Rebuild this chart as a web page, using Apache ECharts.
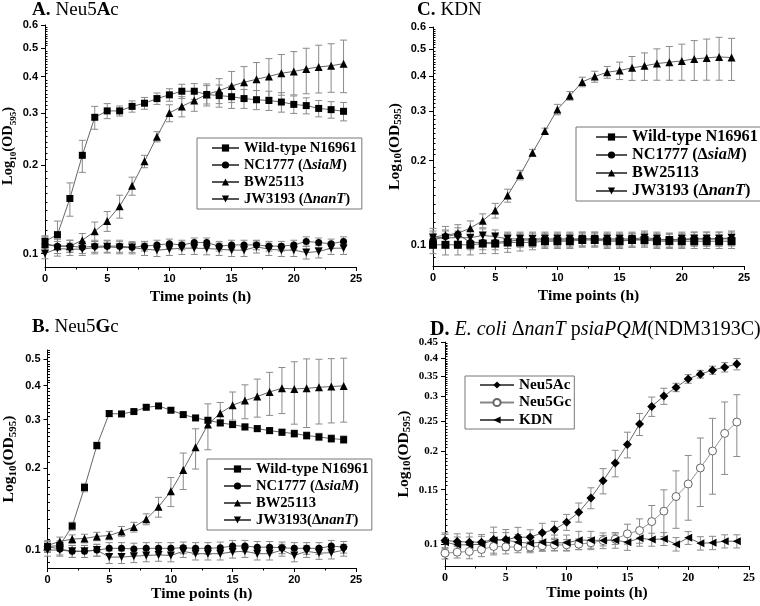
<!DOCTYPE html>
<html><head><meta charset="utf-8">
<script src="https://cdn.jsdelivr.net/npm/echarts@6/dist/echarts.min.js"></script>
<style>html,body{margin:0;padding:0;background:#fff}#c{width:760px;height:606px}</style>
</head><body><div id="c"></div>
<script>
const SERIF = '"Liberation Serif","Times New Roman",serif';
const SANS = '"Liberation Sans",Arial,sans-serif';

// ---------- data ----------
const hours = [0,1,2,3,4,5,6,7,8,9,10,11,12,13,14,15,16,17,18,19,20,21,22,23,24];

const ticksA = ['0.1','0.2','0.3','0.4','0.5','0.6'];
const ticksB = ['0.1','0.2','0.3','0.4','0.5'];
const ticksC = ['0.1','0.2','0.3','0.4','0.5','0.6'];
const ticksD = ['0.1','0.15','0.2','0.25','0.3','0.35','0.4','0.45'];

// Panel A: Neu5Ac
const aWild    = [0.110,0.116,0.154,0.216,0.291,0.306,0.306,0.317,0.325,0.337,0.347,0.357,0.357,0.348,0.345,0.342,0.337,0.334,0.332,0.328,0.322,0.319,0.312,0.309,0.305];
const aWildErr = [0.005,0.013,0.020,0.027,0.026,0.018,0.012,0.014,0.015,0.015,0.017,0.020,0.022,0.025,0.030,0.030,0.025,0.025,0.025,0.025,0.022,0.020,0.020,0.020,0.022];
const aSiaM    = [0.107,0.106,0.106,0.105,0.106,0.106,0.106,0.105,0.106,0.107,0.108,0.107,0.109,0.109,0.106,0.107,0.107,0.107,0.106,0.106,0.107,0.110,0.109,0.108,0.110];
const aSiaMErr = [0.006,0.006,0.005,0.005,0.005,0.005,0.005,0.004,0.004,0.004,0.004,0.004,0.004,0.004,0.004,0.004,0.004,0.004,0.004,0.004,0.004,0.004,0.004,0.004,0.004];
const aBW      = [0.108,0.106,0.106,0.111,0.119,0.129,0.145,0.170,0.206,0.250,0.301,0.317,0.332,0.348,0.359,0.372,0.383,0.392,0.401,0.411,0.417,0.425,0.432,0.436,0.443];
const aBWErr   = [0.006,0.006,0.005,0.006,0.009,0.010,0.013,0.012,0.010,0.010,0.020,0.025,0.027,0.030,0.035,0.045,0.050,0.055,0.060,0.065,0.070,0.075,0.080,0.082,0.090];
const aNanT    = [0.100,0.104,0.1035,0.1035,0.1048,0.1054,0.1048,0.1048,0.1035,0.1027,0.1035,0.1043,0.1043,0.104,0.1035,0.1027,0.1027,0.1054,0.1035,0.1027,0.1027,0.1008,0.1016,0.1043,0.1043];
const aNanTErr = [0.004,0.006,0.005,0.005,0.005,0.005,0.005,0.005,0.005,0.005,0.005,0.005,0.005,0.005,0.005,0.005,0.005,0.005,0.005,0.005,0.005,0.005,0.005,0.005,0.005];

// Panel C: KDN
const cWild    = [0.100,0.100,0.100,0.100,0.101,0.101,0.102,0.102,0.102,0.103,0.103,0.103,0.104,0.104,0.103,0.103,0.104,0.104,0.103,0.103,0.103,0.103,0.103,0.103,0.103];
const cWildErr = [0.007,0.008,0.008,0.008,0.008,0.008,0.008,0.007,0.006,0.006,0.006,0.006,0.006,0.006,0.006,0.006,0.006,0.006,0.006,0.006,0.006,0.006,0.006,0.006,0.006];
const cSiaM    = [0.104,0.107,0.109,0.102,0.102,0.102,0.103,0.104,0.104,0.104,0.104,0.104,0.105,0.105,0.104,0.104,0.104,0.105,0.104,0.104,0.104,0.105,0.105,0.105,0.105];
const cSiaMErr = [0.006,0.006,0.006,0.006,0.006,0.006,0.006,0.006,0.006,0.006,0.006,0.006,0.006,0.006,0.006,0.006,0.006,0.006,0.006,0.006,0.006,0.006,0.006,0.006,0.006];
const cBW      = [0.1065,0.1083,0.110,0.1147,0.122,0.1326,0.150,0.1776,0.2134,0.255,0.3045,0.3406,0.382,0.399,0.4136,0.4194,0.4287,0.4358,0.4442,0.4491,0.454,0.4615,0.4653,0.4692,0.4665];
const cBWErr   = [0.008,0.008,0.008,0.007,0.007,0.008,0.008,0.007,0.006,0.006,0.013,0.012,0.015,0.018,0.020,0.030,0.042,0.049,0.057,0.062,0.067,0.075,0.078,0.082,0.080];
const cNanT    = [0.106,0.106,0.106,0.106,0.108,0.107,0.105,0.105,0.105,0.105,0.105,0.105,0.105,0.105,0.105,0.105,0.105,0.106,0.105,0.104,0.105,0.105,0.105,0.105,0.106];
const cNanTErr = [0.006,0.006,0.006,0.006,0.006,0.006,0.006,0.006,0.006,0.006,0.006,0.006,0.006,0.006,0.006,0.006,0.006,0.006,0.006,0.006,0.006,0.006,0.006,0.006,0.006];

// Panel B: Neu5Gc
const bWild    = [0.103,0.104,0.1224,0.1695,0.2414,0.316,0.315,0.3214,0.3332,0.337,0.325,0.3133,0.3046,0.2987,0.2921,0.288,0.2824,0.2784,0.2738,0.270,0.267,0.2626,0.2596,0.256,0.2538];
const bWildErr = [0.004,0.004,0.004,0.006,0.007,0.008,0.007,0.006,0.006,0.006,0.006,0.006,0.006,0.006,0.007,0.007,0.007,0.007,0.007,0.007,0.008,0.008,0.008,0.008,0.008];
const bSiaM    = [0.103,0.101,0.099,0.099,0.100,0.1015,0.1015,0.101,0.1015,0.1015,0.1015,0.102,0.1015,0.1015,0.102,0.1035,0.1035,0.1025,0.1025,0.102,0.1015,0.1015,0.1015,0.1035,0.1025];
const bSiaMErr = [0.005,0.005,0.005,0.005,0.005,0.005,0.005,0.005,0.005,0.005,0.005,0.005,0.005,0.005,0.005,0.005,0.005,0.005,0.005,0.005,0.005,0.005,0.005,0.005,0.005];
const bBW      = [0.104,0.1076,0.1097,0.1103,0.1122,0.1131,0.117,0.1214,0.1298,0.144,0.1643,0.1966,0.238,0.288,0.317,0.339,0.3526,0.3646,0.3792,0.391,0.389,0.391,0.3944,0.397,0.399];
const bBWErr   = [0.004,0.004,0.004,0.004,0.004,0.004,0.005,0.005,0.006,0.012,0.020,0.030,0.040,0.055,0.030,0.040,0.050,0.058,0.068,0.075,0.100,0.110,0.105,0.105,0.105];
const bNanT    = [0.100,0.100,0.099,0.099,0.100,0.0943,0.0943,0.095,0.0956,0.096,0.0956,0.099,0.097,0.097,0.097,0.0985,0.099,0.097,0.097,0.100,0.0956,0.099,0.0975,0.0978,0.100];
const bNanTErr = [0.005,0.005,0.005,0.005,0.005,0.005,0.005,0.005,0.005,0.005,0.005,0.005,0.005,0.005,0.005,0.005,0.005,0.005,0.005,0.005,0.005,0.005,0.005,0.005,0.005];

// Panel D: E. coli ΔnanT psiaPQM
const dAc      = [0.1027,0.102,0.1015,0.1015,0.1035,0.1035,0.1053,0.1053,0.1088,0.1115,0.1178,0.1268,0.1411,0.1604,0.183,0.210,0.2444,0.2787,0.301,0.321,0.342,0.3543,0.365,0.373,0.3817];
const dAcErr   = [0.006,0.006,0.007,0.006,0.010,0.008,0.008,0.006,0.008,0.007,0.007,0.009,0.011,0.015,0.018,0.020,0.020,0.020,0.018,0.010,0.011,0.010,0.011,0.013,0.016];
const dGc      = [0.0935,0.0942,0.0947,0.0961,0.0983,0.098,0.0978,0.0978,0.0988,0.0995,0.0995,0.100,0.101,0.1027,0.1038,0.108,0.1107,0.1183,0.1278,0.1425,0.1565,0.1763,0.200,0.228,0.248];
const dGcErr   = [0.004,0.004,0.005,0.005,0.006,0.005,0.004,0.004,0.004,0.004,0.004,0.004,0.004,0.004,0.004,0.008,0.010,0.015,0.022,0.030,0.037,0.044,0.055,0.060,0.056];
const dKdn     = [0.1015,0.0995,0.0995,0.100,0.103,0.103,0.1015,0.1007,0.1015,0.101,0.101,0.103,0.103,0.1027,0.103,0.1015,0.1045,0.1035,0.104,0.100,0.1048,0.1007,0.101,0.1022,0.1022];
const dKdnErr  = [0.006,0.006,0.006,0.006,0.006,0.006,0.006,0.006,0.006,0.006,0.006,0.007,0.007,0.006,0.006,0.006,0.006,0.005,0.005,0.005,0.005,0.005,0.005,0.005,0.005];

// ---------- layout / style ----------
const legendRich = {
  'NC1777 (ΔsiaM)': '{b|NC1777 (Δ}{i|siaM}{b|)}',
  'JW3193 (ΔnanT)': '{b|JW3193 (Δ}{i|nanT}{b|)}',
  'JW3193(ΔnanT)': '{b|JW3193(Δ}{i|nanT}{b|)}'
};

const panels = [
  { grid:{left:43,top:25,width:313,height:242}, ymin:0.09, ymax:0.6, ticks:ticksA, minorStep:0.01,
    labelFont:SANS, xNameGap:22, yNameGap:27, yNameSize:14.5, ySubSize:9,
    title:{text:'{b|A.} {n|Neu5}{b|A}{n|c}', left:32, top:1, size:19},
    legend:{left:197, top:138, padding:[2.5,5,2.5,14], itemGap:2, itemWidth:27, fontSize:14.6, lh:16},
    series:[
      {name:'Wild-type N16961', v:aWild, e:aWildErr, symbol:'rect', size:7},
      {name:'NC1777 (ΔsiaM)', v:aSiaM, e:aSiaMErr, symbol:'circle', size:7},
      {name:'BW25113', v:aBW, e:aBWErr, symbol:'triangle', size:8},
      {name:'JW3193 (ΔnanT)', v:aNanT, e:aNanTErr, symbol:'triangle', rotate:180, size:8}
    ]},
  { grid:{left:433,top:27,width:311,height:239}, ymin:0.084, ymax:0.6, ticks:ticksC, minorStep:0.01,
    labelFont:SANS, xNameGap:22, yNameGap:29, yNameSize:15.5, ySubSize:11,
    title:{text:'{b|C.} {n|KDN}', left:417, top:1, size:19},
    legend:{left:576, top:127, padding:[2,12,2,19], itemGap:2, itemWidth:31, fontSize:16.3, lh:18},
    series:[
      {name:'Wild-type N16961', v:cWild, e:cWildErr, symbol:'rect', size:8},
      {name:'NC1777 (ΔsiaM)', v:cSiaM, e:cSiaMErr, symbol:'circle', size:7},
      {name:'BW25113', v:cBW, e:cBWErr, symbol:'triangle', size:8},
      {name:'JW3193 (ΔnanT)', v:cNanT, e:cNanTErr, symbol:'triangle', rotate:180, size:8}
    ]},
  { grid:{left:43,top:350,width:313,height:218}, ymin:0.086, ymax:0.54, ticks:ticksB, minorStep:0.01,
    labelFont:SANS, xNameGap:13, yNameGap:29, yNameSize:15.5, ySubSize:11,
    title:{text:'{b|B.} {n|Neu5}{b|G}{n|c}', left:32, top:318, size:19},
    legend:{left:207, top:459, padding:[2.5,3,2.5,16], itemGap:2, itemWidth:27, fontSize:14.6, lh:15.5},
    series:[
      {name:'Wild-type N16961', v:bWild, e:bWildErr, symbol:'rect', size:7},
      {name:'NC1777 (ΔsiaM)', v:bSiaM, e:bSiaMErr, symbol:'circle', size:7},
      {name:'BW25113', v:bBW, e:bBWErr, symbol:'triangle', size:8},
      {name:'JW3193(ΔnanT)', v:bNanT, e:bNanTErr, symbol:'triangle', rotate:180, size:8}
    ]},
  { grid:{left:445,top:342,width:304,height:224}, ymin:0.085, ymax:0.45, ticks:ticksD, minorStep:0.005,
    labelFont:SERIF, xNameGap:14, yNameGap:32, yNameSize:15.5, ySubSize:11,
    title:{text:'{b|D.} {i|E. coli} {n|Δ}{i|nanT} {n|p}{i|siaPQM}{n|(NDM3193C)}', left:430, top:320, size:20},
    legend:{left:465, top:376, padding:[1.5,3,1.5,14], itemGap:2.5, itemWidth:34, fontSize:15.2, lh:17},
    series:[
      {name:'Neu5Ac', v:dAc, e:dAcErr, symbol:'diamond', size:9},
      {name:'Neu5Gc', v:dGc, e:dGcErr, symbol:'circle', size:8, open:true},
      {name:'KDN', v:dKdn, e:dKdnErr, symbol:'triangle', rotate:90, size:8}
    ]}
];

function minorValues(min, max, step, majors) {
  const out = [];
  for (let k = Math.ceil(min / step - 1e-9); k * step <= max + 1e-9; k++) {
    const v = Math.round(k * step * 100000) / 100000;
    if (!majors.some(m => Math.abs(m - v) < 1e-9)) out.push(v);
  }
  return out;
}

const option = {
  animation:false, backgroundColor:'#fff',
  title:[], grid:[], xAxis:[], yAxis:[], legend:[], series:[]
};

panels.forEach((p, i) => {
  const majors = p.ticks.map(Number);
  option.grid.push(Object.assign({containLabel:false}, p.grid));
  option.title.push({
    text:p.title.text, left:p.title.left, top:p.title.top, padding:0,
    textStyle:{rich:{
      b:{fontFamily:SERIF, fontWeight:'bold', fontSize:p.title.size, color:'#000'},
      n:{fontFamily:SERIF, fontWeight:'normal', fontSize:p.title.size, color:'#000'},
      i:{fontFamily:SERIF, fontWeight:'normal', fontStyle:'italic', fontSize:p.title.size, color:'#000'}
    }}
  });
  option.xAxis.push({
    type:'value', gridIndex:i, min:0, max:25, interval:5,
    axisLine:{lineStyle:{color:'#000', width:1}},
    axisTick:{length:4, lineStyle:{color:'#000'}},
    minorTick:{show:true, splitNumber:2, length:2.5, lineStyle:{color:'#000'}},
    splitLine:{show:false},
    axisLabel:{fontFamily:p.labelFont, fontWeight:'bold', fontSize:p.labelFont===SERIF?12:11, color:'#000', margin:6},
    name:'Time points (h)', nameLocation:'middle', nameGap:p.xNameGap,
    nameTextStyle:{fontFamily:SERIF, fontWeight:'bold', fontSize:15.5, color:'#000'}
  });
  const sub = p.ySubSize, big = p.yNameSize;
  option.yAxis.push({
    type:'log', logBase:10, gridIndex:i, min:p.ymin, max:p.ymax,
    axisLine:{show:true, lineStyle:{color:'#000', width:1}},
    axisTick:{show:true, length:4, customValues:majors, lineStyle:{color:'#000'}},
    axisLabel:{customValues:majors, fontFamily:p.labelFont, fontWeight:'bold', fontSize:11, color:'#000', margin:7,
      formatter:(v) => { const k = majors.findIndex(m => Math.abs(m - v) < 1e-9); return k >= 0 ? p.ticks[k] : ''; }},
    splitLine:{show:false}, minorTick:{show:false},
    name:'{a|Log}{s|10}{a|(OD}{s|595}{a|)}', nameLocation:'middle', nameRotate:90, nameGap:p.yNameGap,
    nameTextStyle:{rich:{
      a:{fontFamily:SERIF, fontWeight:'bold', fontSize:big, lineHeight:19, verticalAlign:'middle', color:'#000'},
      s:{fontFamily:SERIF, fontWeight:'bold', fontSize:sub, lineHeight:sub, verticalAlign:'bottom', color:'#000'}
    }}
  });
  option.yAxis.push({
    type:'log', logBase:10, gridIndex:i, min:p.ymin, max:p.ymax, position:'left',
    axisLine:{show:false},
    axisTick:{show:true, inside:true, length:2.5, customValues:minorValues(p.ymin, p.ymax, p.minorStep, majors), lineStyle:{color:'#000'}},
    axisLabel:{show:false}, splitLine:{show:false}
  });
  const yIdx = 2 * i;
  const L = p.legend;
  option.legend.push({
    data:p.series.map(s => s.name), orient:'vertical', left:L.left, top:L.top,
    padding:L.padding, itemGap:L.itemGap, itemWidth:L.itemWidth, itemHeight:9,
    borderColor:'#777', borderWidth:1, borderRadius:0, backgroundColor:'#fff',
    selectedMode:false, align:'left',
    formatter:(n) => legendRich[n] || ('{b|' + n + '}'),
    textStyle:{color:'#000', rich:{
      b:{fontFamily:SERIF, fontWeight:'bold', fontSize:L.fontSize, lineHeight:L.lh, color:'#000'},
      i:{fontFamily:SERIF, fontWeight:'bold', fontStyle:'italic', fontSize:L.fontSize, lineHeight:L.lh, color:'#000'}
    }}
  });
  p.series.forEach(s => {
    option.series.push({
      type:'custom', xAxisIndex:i, yAxisIndex:yIdx, silent:true, z:1,
      data:hours.map((h, k) => [h, s.v[k] - s.e[k], s.v[k] + s.e[k]]),
      encode:{x:0, y:[1, 2]},
      renderItem:(params, api) => {
        const x = api.value(0);
        const lo = api.coord([x, api.value(1)]);
        const hi = api.coord([x, api.value(2)]);
        const w = 3.5;
        const st = {stroke:'#8a8a8a', lineWidth:1};
        return {type:'group', children:[
          {type:'line', shape:{x1:lo[0], y1:lo[1], x2:hi[0], y2:hi[1]}, style:st},
          {type:'line', shape:{x1:hi[0]-w, y1:hi[1], x2:hi[0]+w, y2:hi[1]}, style:st},
          {type:'line', shape:{x1:lo[0]-w, y1:lo[1], x2:lo[0]+w, y2:lo[1]}, style:st}
        ]};
      }
    });
    option.series.push({
      type:'line', name:s.name, xAxisIndex:i, yAxisIndex:yIdx, z:3,
      data:hours.map((h, k) => [h, s.v[k]]),
      symbol:s.symbol, symbolSize:s.size, symbolRotate:s.rotate || 0, showAllSymbol:true,
      itemStyle:s.open ? {color:'#fff', borderColor:'#666', borderWidth:1} : {color:'#000', borderWidth:0},
      lineStyle:{color:s.open ? '#888' : '#555', width:0.9},
      emphasis:{disabled:true}
    });
  });
});

const chart = echarts.init(document.getElementById('c'), null, {renderer:'canvas'});
chart.setOption(option);
</script>
</body></html>
